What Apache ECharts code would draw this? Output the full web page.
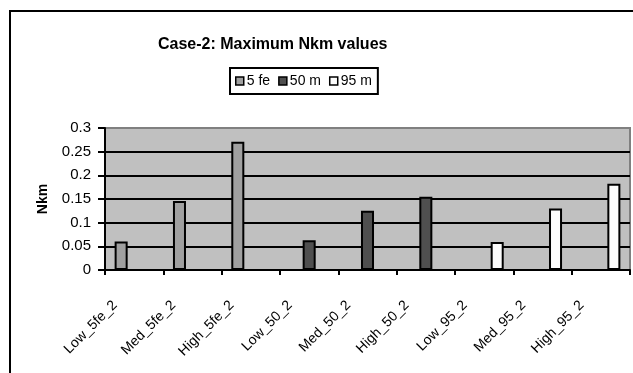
<!DOCTYPE html>
<html>
<head>
<meta charset="utf-8">
<script src="https://cdn.jsdelivr.net/npm/echarts@6/dist/echarts.min.js"></script>
<style>
  html, body { margin: 0; padding: 0; background: #fff; }
  #chart { width: 633px; height: 373px; }
</style>
</head>
<body>
<div id="chart"></div>
<script>
// Case categories along the x axis
const categories = ['Low_5fe_2', 'Med_5fe_2', 'High_5fe_2', 'Low_50_2', 'Med_50_2', 'High_50_2', 'Low_95_2', 'Med_95_2', 'High_95_2'];
// Maximum Nkm per series (null where the series has no case)
const fe5 = [0.06, 0.146, 0.271, null, null, null, null, null, null];
const m50 = [null, null, null, 0.063, 0.125, 0.155, null, null, null];
const m95 = [null, null, null, null, null, null, 0.059, 0.130, 0.182];
const seriesNames = ['5 fe', '50 m', '95 m'];
const yTicks = [0, 0.05, 0.1, 0.15, 0.2, 0.25, 0.3];

const font = 'Liberation Sans, Arial, sans-serif';
const colors = ['#a0a0a0', '#4f4f4f', '#fcfcfc'];
const seriesData = [fe5, m50, m95];

const chart = echarts.init(document.getElementById('chart'), null, { renderer: 'canvas' });

chart.setOption({
  animation: false,
  backgroundColor: '#ffffff',
  title: {
    text: 'Case-2: Maximum Nkm values',
    left: 158,
    top: 37,
    padding: 0,
    textStyle: { fontFamily: font, fontSize: 16, fontWeight: 'bold', color: '#000' }
  },
  legend: {
    data: seriesNames,
    left: 230,
    top: 68,
    orient: 'horizontal',
    itemWidth: 8,
    itemHeight: 8,
    itemGap: 8,
    padding: [6, 6, 6, 5],
    borderColor: '#000',
    borderWidth: 2,
    icon: 'rect',
    textStyle: { fontFamily: font, fontSize: 14, color: '#000', padding: [0, 0, 0, -2] },
    itemStyle: { borderColor: '#000', borderWidth: 1.5 }
  },
  grid: {
    left: 105,
    top: 128,
    right: 3,
    bottom: 103,
    show: true,
    backgroundColor: '#c0c0c0',
    borderColor: '#808080',
    borderWidth: 2
  },
  xAxis: {
    type: 'category',
    data: categories,
    axisLine: { lineStyle: { color: '#000', width: 2 } },
    axisTick: { show: true, length: 5, lineStyle: { color: '#000', width: 2 } },
    axisLabel: {
      interval: 0,
      rotate: 45,
      margin: 14,
      padding: [0, 27, 0, 0],
      fontFamily: font,
      fontSize: 14,
      color: '#000'
    },
    splitLine: { show: false }
  },
  yAxis: {
    type: 'value',
    min: yTicks[0],
    max: yTicks[yTicks.length - 1],
    interval: 0.05,
    name: 'Nkm',
    nameLocation: 'middle',
    nameGap: 55,
    nameTextStyle: { fontFamily: font, fontSize: 14, fontWeight: 'bold', color: '#000' },
    axisLine: { show: true, lineStyle: { color: '#000', width: 2 } },
    axisTick: { show: true, length: 7, lineStyle: { color: '#000', width: 2 } },
    axisLabel: {
      margin: 14,
      fontFamily: font,
      fontSize: 15,
      color: '#000',
      formatter: v => String(+v.toFixed(2))
    },
    splitLine: {
      show: true,
      lineStyle: { color: ['#000', '#000', '#000', '#000', '#000', '#000', '#808080'], width: 2 }
    }
  },
  series: seriesNames.map((name, i) => ({
    name: name,
    type: 'bar',
    data: seriesData[i],
    barGap: '0%',
    barCategoryGap: '33%',
    itemStyle: { color: colors[i], borderColor: '#000', borderWidth: 2 }
  })),
  graphic: [{
    type: 'rect',
    shape: { x: 10, y: 11, width: 700, height: 500 },
    style: { fill: 'none', stroke: '#000', lineWidth: 2 },
    silent: true,
    z: 100
  }]
});
</script>
</body>
</html>
